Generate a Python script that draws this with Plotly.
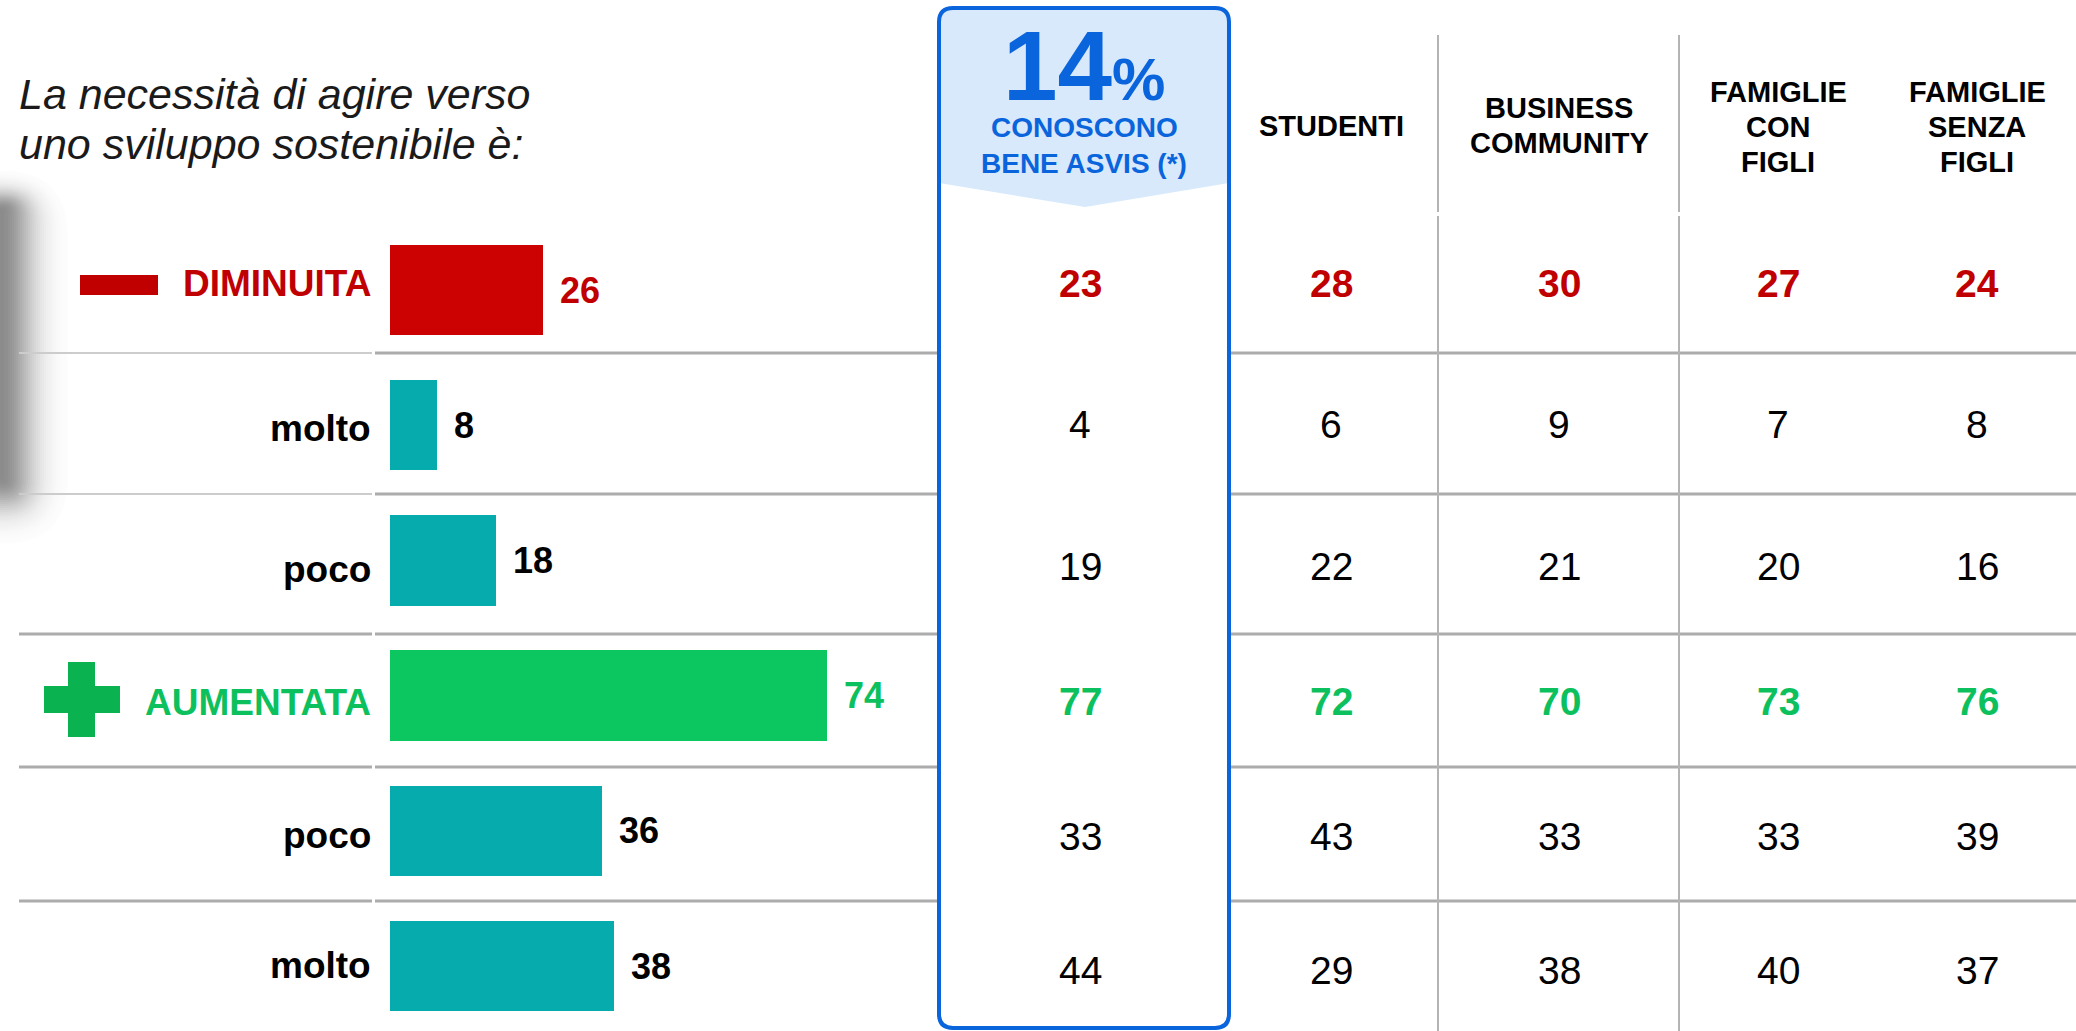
import math
import plotly.graph_objects as go

# ---- data -------------------------------------------------------------
row_labels = ["DIMINUITA", "molto", "poco", "AUMENTATA", "poco", "molto"]
row_kinds = ["neg", "sub", "sub", "pos", "sub", "sub"]
totale = [26, 8, 18, 74, 36, 38]

quota_conoscono = 14
conoscono_header = ["CONOSCONO", "BENE ASVIS (*)"]
group_headers = [["STUDENTI"], ["BUSINESS", "COMMUNITY"], ["FAMIGLIE", "CON", "FIGLI"],
                 ["FAMIGLIE", "SENZA", "FIGLI"]]
conoscono_asvis = [23, 4, 19, 77, 33, 44]
studenti = [28, 6, 22, 72, 43, 29]
business_community = [30, 9, 21, 70, 33, 38]
famiglie_con_figli = [27, 7, 20, 73, 33, 40]
famiglie_senza_figli = [24, 8, 16, 76, 39, 37]

title_lines = ["La necessità di agire verso", "uno sviluppo sostenibile è:"]

# ---- styling / layout constants ---------------------------------------
W, H = 2076, 1031
FONT = "Liberation Sans, Arial, Helvetica, sans-serif"
RED_TXT = "#c00000"
RED_BAR = "#cc0202"
GREEN_TXT = "#0cc15d"
GREEN_BAR = "#0cc65f"
GREEN_CROSS = "#0ab350"
TEAL = "#05abad"
BLUE = "#0a64dc"
LIGHT_BLUE = "#d8e9fc"
GRID = "#acacac"
GRID_LIGHT = "#cccccc"
VGRID = "#b4b4b4"

ROW0, PITCH = 290.0, 135.2          # pixel centre of first bar, bar pitch
BAR_X0, PX_PER_UNIT = 390.0, 5.9    # bar baseline and scale
COL_X = [1080, 1331, 1559, 1778, 1977]
LABEL_Y = [283, 429, 569, 702, 835, 965]     # row label centres (px)
TABLE_Y = [284, 425, 566, 701, 836, 970]     # table value centres (px)
HLINE_Y = [353, 494, 634, 767, 901]          # row separators (px)
HEADER_Y = {1: [126], 2: [108, 143], 3: [92, 127, 162]}
BOX = dict(x0=939, x1=1229, y0=8, y1=1028, r=14)


def px(x):
    return x / W


def py(y):
    return 1 - y / H


def pt(x, y):
    return f"{px(x):.5f},{py(y):.5f}"


def text_ann(text, x, y, size, color, anchor="center", xref="paper", yref="paper", **kw):
    return dict(text=text, x=x, y=y, xref=xref, yref=yref, xanchor=anchor,
                yanchor="middle", showarrow=False,
                font=dict(family=FONT, size=size, color=color), **kw)


kind_color = {"neg": RED_TXT, "pos": GREEN_TXT, "sub": "black"}
bar_colors = [RED_BAR if k == "neg" else GREEN_BAR if k == "pos" else TEAL
              for k in row_kinds]

fig = go.Figure()
fig.add_trace(go.Bar(
    x=totale, y=list(range(len(totale))), orientation="h", width=0.67,
    marker=dict(color=bar_colors, line=dict(width=0)), hoverinfo="skip",
))

annotations = []

# title
for line, yc in zip(title_lines, [94, 144]):
    annotations.append(text_ann(f"<i>{line}</i>", px(17), py(yc), 43, "#1a1a1a",
                                anchor="left"))

# row labels and bar values
for i, (lab, kind, v, ly) in enumerate(zip(row_labels, row_kinds, totale, LABEL_Y)):
    annotations.append(text_ann(f"<b>{lab}</b>", px(373), py(ly), 37,
                                kind_color[kind], anchor="right"))
    annotations.append(text_ann(f"<b>{v}</b>", v, i, 36, kind_color[kind],
                                anchor="left", xref="x", yref="y", xshift=15))

# table values
columns = [conoscono_asvis, studenti, business_community,
           famiglie_con_figli, famiglie_senza_figli]
for cx, col in zip(COL_X, columns):
    for v, kind, ty in zip(col, row_kinds, TABLE_Y):
        txt = f"<b>{v}</b>" if kind != "sub" else f"{v}"
        annotations.append(text_ann(txt, px(cx), py(ty), 39, kind_color[kind]))

# column headers
for cx, lines in zip(COL_X[1:], group_headers):
    for line, hy in zip(lines, HEADER_Y[len(lines)]):
        annotations.append(text_ann(f"<b>{line}</b>", px(cx), py(hy), 29, "black"))

# highlighted column header
box_cx = (BOX["x0"] + BOX["x1"]) / 2
annotations.append(text_ann(
    f"<b>{quota_conoscono}<span style='font-size:60px'>%</span></b>",
    px(box_cx), py(66), 98, BLUE))
for line, hy in zip(conoscono_header, [128, 163]):
    annotations.append(text_ann(f"<b>{line}</b>", px(box_cx), py(hy), 28, BLUE))

shapes = []

# soft grey shadow on the left edge: nested opaque bands, largest/lightest
# first, each smaller band a little darker (gaussian falloff)
for d in range(66, -1, -2):
    g = math.exp(-(d / 33.0) ** 2)
    level = int(round(255 - 115 * g))
    col = f"rgb({level},{level},{level})"
    sx1, sy0, sy1 = 2 + d, 210 - 0.6 * d, 478 + d
    rr = max(d, 1.0)
    path = (f"M {pt(-40, sy0)} L {pt(sx1 - rr, sy0)} Q {pt(sx1, sy0)} {pt(sx1, sy0 + rr)} "
            f"L {pt(sx1, sy1 - rr)} Q {pt(sx1, sy1)} {pt(sx1 - rr, sy1)} "
            f"L {pt(-40, sy1)} Z")
    shapes.append(dict(type="path", xref="paper", yref="paper", layer="below",
                       path=path, fillcolor=col, line=dict(width=0)))

# horizontal row separators (left part / right part)
for i, yl in enumerate(HLINE_Y):
    light = i < 2
    shapes.append(dict(
        type="line", xref="paper", yref="paper", x0=px(19), x1=px(372),
        y0=py(yl), y1=py(yl),
        line=dict(color=GRID_LIGHT if light else GRID, width=2 if light else 3),
    ))
    shapes.append(dict(
        type="line", xref="paper", yref="paper", x0=px(375), x1=1,
        y0=py(yl), y1=py(yl), line=dict(color=GRID, width=3),
    ))

# vertical column separators
for vx in [1438, 1679]:
    for ya, yb in [(35, 212), (216, H)]:
        shapes.append(dict(
            type="line", xref="paper", yref="paper", x0=px(vx), x1=px(vx),
            y0=py(ya), y1=py(yb), line=dict(color=VGRID, width=2),
        ))

# highlighted column box
x0, x1, y0, y1, r = BOX["x0"], BOX["x1"], BOX["y0"], BOX["y1"], BOX["r"]
box_path = (f"M {pt(x0 + r, y0)} L {pt(x1 - r, y0)} Q {pt(x1, y0)} {pt(x1, y0 + r)} "
            f"L {pt(x1, y1 - r)} Q {pt(x1, y1)} {pt(x1 - r, y1)} "
            f"L {pt(x0 + r, y1)} Q {pt(x0, y1)} {pt(x0, y1 - r)} "
            f"L {pt(x0, y0 + r)} Q {pt(x0, y0)} {pt(x0 + r, y0)} Z")
shapes.append(dict(type="path", xref="paper", yref="paper", path=box_path,
                   fillcolor="white", line=dict(width=0)))
pennant = (f"M {pt(x0 + r, y0)} L {pt(x1 - r, y0)} Q {pt(x1, y0)} {pt(x1, y0 + r)} "
           f"L {pt(x1, 183)} L {pt(box_cx + 1, 207)} L {pt(x0, 183)} "
           f"L {pt(x0, y0 + r)} Q {pt(x0, y0)} {pt(x0 + r, y0)} Z")
shapes.append(dict(type="path", xref="paper", yref="paper", path=pennant,
                   fillcolor=LIGHT_BLUE, line=dict(width=0)))
shapes.append(dict(type="path", xref="paper", yref="paper", path=box_path,
                   fillcolor="rgba(0,0,0,0)", line=dict(color=BLUE, width=4)))

# minus / plus markers
shapes.append(dict(type="rect", xref="paper", yref="paper",
                   x0=px(80), x1=px(158), y0=py(275), y1=py(295),
                   fillcolor=RED_TXT, line=dict(width=0)))
shapes.append(dict(type="rect", xref="paper", yref="paper",
                   x0=px(68), x1=px(95), y0=py(662), y1=py(737),
                   fillcolor=GREEN_CROSS, line=dict(width=0)))
shapes.append(dict(type="rect", xref="paper", yref="paper",
                   x0=px(44), x1=px(120), y0=py(686), y1=py(713),
                   fillcolor=GREEN_CROSS, line=dict(width=0)))

fig.update_layout(
    width=W, height=H, margin=dict(l=0, r=0, t=0, b=0),
    paper_bgcolor="white", plot_bgcolor="rgba(0,0,0,0)", showlegend=False,
    xaxis=dict(domain=[px(BAR_X0), 1], range=[0, (W - BAR_X0) / PX_PER_UNIT],
               visible=False, fixedrange=True),
    yaxis=dict(domain=[0, 1], range=[(H - ROW0) / PITCH, -ROW0 / PITCH],
               visible=False, fixedrange=True),
    annotations=annotations, shapes=shapes, bargap=0,
)

fig.write_html("out.html")
